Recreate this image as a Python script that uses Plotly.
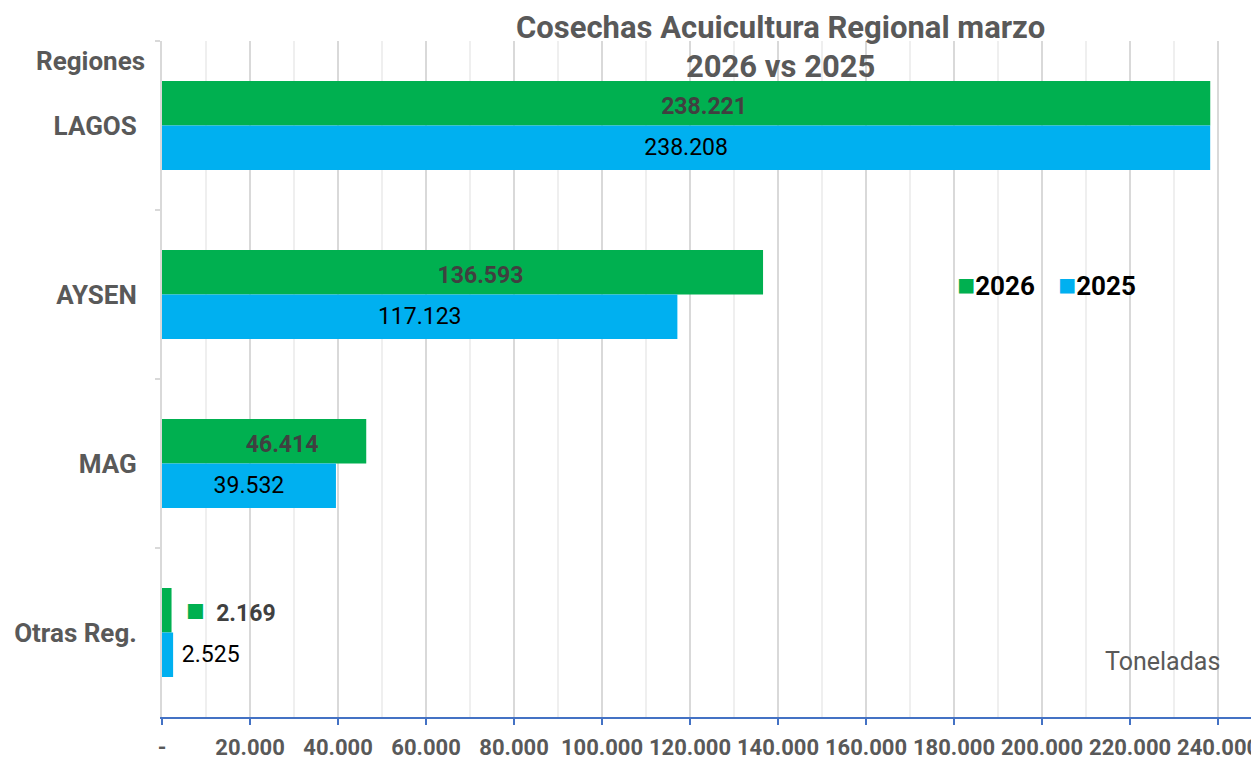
import plotly.graph_objects as go

regions = ["LAGOS", "AYSEN", "MAG", "Otras Reg."]
values_2026 = [238221, 136593, 46414, 2169]
values_2025 = [238208, 117123, 39532, 2525]
label_pos = ["inside", "inside", "inside", "outside"]
x_tickvals = [0, 20000, 40000, 60000, 80000, 100000, 120000, 140000, 160000, 180000, 200000, 220000, 240000]
x_ticktext = ["-", "20.000", "40.000", "60.000", "80.000", "100.000", "120.000", "140.000",
              "160.000", "180.000", "200.000", "220.000", "240.000"]

GREEN = "#00B050"
BLUE = "#00B0F0"
GRAY = "#595959"
FONT = "Roboto"
NB = "\u00a0"

# page body has an 8px margin: figure is drawn at (8, 8) in the window
OFF = 8
W, H = 1259 - OFF, 757 - OFF
PL, PR, PT, PB = 162, 1259, 41, 717  # plot area in window pixels


def px(x):
    return (x - PL) / (PR - PL)


def py(y):
    return 1 - (y - PT) / (PB - PT)


SQ = "<span style='color:" + GREEN + ";font-size:31px'>■</span>"
green_tpl = [SQ + NB * 3 + "%{x:,d}"] * 3 + [NB * 2 + SQ + NB * 2 + "%{x:,d}"]
blue_tpl = ["%{x:,d}"] * 3 + [NB + "%{x:,d}"]

fig = go.Figure()
fig.add_trace(go.Bar(
    y=regions, x=values_2026, orientation="h", name="2026",
    marker=dict(color=GREEN, line=dict(width=0)),
    texttemplate=green_tpl,
    textposition=label_pos, insidetextanchor="middle", textangle=0,
    textfont=dict(family=FONT, size=23, color="#404040", weight="bold"),
    constraintext="none", cliponaxis=False, showlegend=False,
))
fig.add_trace(go.Bar(
    y=regions, x=values_2025, orientation="h", name="2025",
    marker=dict(color=BLUE, line=dict(width=0)),
    texttemplate=blue_tpl,
    textposition=label_pos, insidetextanchor="middle", textangle=0,
    textfont=dict(family=FONT, size=23, color="#000000"),
    constraintext="none", cliponaxis=False, showlegend=False,
))

fig.update_layout(
    width=W, height=H,
    margin=dict(l=PL - OFF, r=0, t=PT - OFF, b=H - (PB - OFF)),
    paper_bgcolor="white", plot_bgcolor="white",
    barmode="group", bargap=0.473, bargroupgap=0,
    separators=",.",
    font=dict(family=FONT, color=GRAY),
    xaxis=dict(
        range=[0, 249300], tickvals=x_tickvals, ticktext=x_ticktext,
        showgrid=True, gridcolor="#D9D9D9", gridwidth=2,
        minor=dict(dtick=10000, tick0=0, showgrid=True, gridcolor="#EFEFEF", gridwidth=1.5),
        showline=True, linecolor="#4472C4", linewidth=1.5,
        ticks="outside", ticklen=6, tickcolor="#4472C4", tickwidth=1.5,
        tickfont=dict(family=FONT, size=22, color=GRAY, weight="bold"),
        ticklabelstandoff=4, ticklabeloverflow="allow",
        zeroline=False, automargin=False, fixedrange=True,
    ),
    yaxis=dict(
        categoryorder="array", categoryarray=regions, autorange="reversed",
        tickson="boundaries", ticks="outside", ticklen=5, tickcolor="#D9D9D9", tickwidth=1.5,
        showline=True, linecolor="#D9D9D9", linewidth=2, showgrid=False,
        tickfont=dict(family=FONT, size=26, color=GRAY, weight="bold"),
        ticklabelstandoff=18, automargin=False, fixedrange=True,
    ),
)

for text, ycen in [("<b>Cosechas Acuicultura Regional marzo</b>", 27), ("<b>2026 vs 2025</b>", 66)]:
    fig.add_annotation(text=text, xref="paper", yref="paper", x=px(780), y=py(ycen),
                       xanchor="center", yanchor="middle", showarrow=False,
                       font=dict(family=FONT, size=31, color=GRAY))

fig.add_annotation(text="<b>Regiones</b>", xref="paper", yref="paper",
                   x=px(147), y=py(61), xanchor="right", yanchor="middle",
                   showarrow=False, font=dict(family=FONT, size=26, color=GRAY))
fig.add_annotation(text="Toneladas", xref="paper", yref="paper",
                   x=px(1222), y=py(661), xanchor="right", yanchor="middle",
                   showarrow=False, font=dict(family=FONT, size=25, color=GRAY))

legend_items = [("2026", GREEN, 955), ("2025", BLUE, 1056)]
for name, col, xpix in legend_items:
    fig.add_annotation(
        text="<span style='color:" + col + ";font-size:30px'>■</span><b>" + name + "</b>",
        xref="paper", yref="paper", x=px(xpix), y=py(284),
        xanchor="left", yanchor="middle", showarrow=False,
        font=dict(family=FONT, size=26, color="#000000"))

fig.write_html("out.html")
